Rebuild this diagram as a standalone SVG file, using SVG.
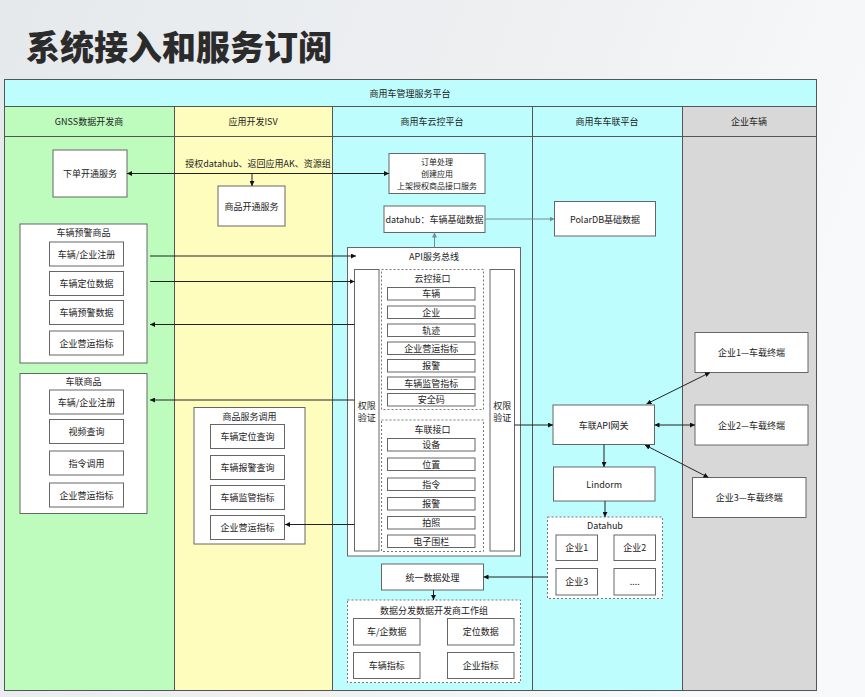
<svg xmlns="http://www.w3.org/2000/svg" width="865" height="697" viewBox="0 0 865 697">
<defs>
<linearGradient id="bg" x1="0" y1="0" x2="1" y2="0.3">
<stop offset="0" stop-color="#e6e9ec"/>
<stop offset="0.6" stop-color="#eef0f2"/>
<stop offset="1" stop-color="#f8f9fa"/>
</linearGradient>
<marker id="ah" viewBox="0 0 10 10" refX="10" refY="5" markerWidth="5" markerHeight="5" markerUnits="userSpaceOnUse" orient="auto-start-reverse">
<path d="M0,0 L10,5 L0,10 z" fill="#111"/>
</marker>
<marker id="ahg" viewBox="0 0 10 10" refX="10" refY="5" markerWidth="5" markerHeight="5" markerUnits="userSpaceOnUse" orient="auto-start-reverse">
<path d="M0,0 L10,5 L0,10 z" fill="#6f8c97"/>
</marker>
</defs>
<style>
text{font-family:"Noto Sans CJK SC","Liberation Sans",sans-serif;fill:#222;font-size:9px;text-anchor:middle;dominant-baseline:central}
.title{font-size:34px;font-weight:900;fill:#2b2b2b;text-anchor:start;dominant-baseline:auto}
.ml{font-size:8px}
.lane{stroke:#555;stroke-width:1}
.box{fill:#fff;stroke:#666;stroke-width:1}
.dash{fill:#fff;stroke:#777;stroke-width:1;stroke-dasharray:2 2}
.ln{fill:none;stroke:#222;stroke-width:1}
.lg{fill:none;stroke:#6f8c97;stroke-width:1}
</style>
<rect x="0" y="0" width="865" height="697" fill="url(#bg)"/>
<text class="title" x="26" y="60">系统接入和服务订阅</text>

<g id="lanes">
<rect class="lane" x="4.5" y="79.5" width="812" height="27" fill="#bdfdfd"/>
<rect class="lane" x="4.5" y="106.5" width="170" height="584" fill="#bdfcbd"/>
<rect class="lane" x="174.5" y="106.5" width="158" height="584" fill="#fefdbd"/>
<rect class="lane" x="332.5" y="106.5" width="200" height="584" fill="#bdfdfd"/>
<rect class="lane" x="532.5" y="106.5" width="150" height="584" fill="#bdfdfd"/>
<rect class="lane" x="682.5" y="106.5" width="134" height="584" fill="#d8d8d8"/>
<line class="lane" x1="4.5" y1="136.5" x2="816.5" y2="136.5"/>
<text x="410" y="93">商用车管理服务平台</text>
<text x="89" y="121">GNSS数据开发商</text>
<text x="253" y="121">应用开发ISV</text>
<text x="432" y="121">商用车云控平台</text>
<text x="607" y="121">商用车车联平台</text>
<text x="749" y="121">企业车辆</text>
</g>

<g id="n-xiadan"><rect class="box" x="53" y="150" width="74" height="47"/><text x="90" y="173.5">下单开通服务</text></g>
<g id="n-shangpinkaitong"><rect class="box" x="218" y="186" width="67" height="40"/><text x="251.5" y="206">商品开通服务</text></g>

<g id="n-yujing">
<rect class="box" x="20" y="224" width="127" height="139"/>
<text x="83.5" y="232.5">车辆预警商品</text>
<rect class="box" x="49.5" y="242" width="74" height="24"/><text x="86.5" y="254">车辆/企业注册</text>
<rect class="box" x="49.5" y="271.5" width="74" height="24"/><text x="86.5" y="283.5">车辆定位数据</text>
<rect class="box" x="49.5" y="300.5" width="74" height="24"/><text x="86.5" y="312.5">车辆预警数据</text>
<rect class="box" x="49.5" y="331" width="74" height="24"/><text x="86.5" y="343">企业营运指标</text>
</g>

<g id="n-chelian">
<rect class="box" x="20" y="373.5" width="127" height="140"/>
<text x="83.5" y="381.5">车联商品</text>
<rect class="box" x="49.5" y="390" width="74" height="24"/><text x="86.5" y="402">车辆/企业注册</text>
<rect class="box" x="49.5" y="419.5" width="74" height="24"/><text x="86.5" y="431.5">视频查询</text>
<rect class="box" x="49.5" y="451" width="74" height="24"/><text x="86.5" y="463">指令调用</text>
<rect class="box" x="49.5" y="483" width="74" height="24"/><text x="86.5" y="495">企业营运指标</text>
</g>

<g id="n-fuwudiaoyong">
<rect class="box" x="194" y="407.5" width="111" height="136.5"/>
<text x="249.5" y="416">商品服务调用</text>
<rect class="box" x="210.5" y="424.5" width="74" height="24"/><text x="247.5" y="436.5">车辆定位查询</text>
<rect class="box" x="210.5" y="455.5" width="74" height="24"/><text x="247.5" y="467.5">车辆报警查询</text>
<rect class="box" x="210.5" y="485.5" width="74" height="24"/><text x="247.5" y="497.5">车辆监管指标</text>
<rect class="box" x="210.5" y="515.5" width="74" height="24"/><text x="247.5" y="527.5">企业营运指标</text>
</g>

<g id="n-dingdan">
<rect class="box" x="389" y="153.5" width="96" height="40"/>
<text class="ml" x="437" y="161.6">订单处理</text>
<text class="ml" x="437" y="173.5">创建应用</text>
<text class="ml" x="437" y="185.4">上架授权商品接口服务</text>
</g>
<g id="n-datahub"><rect class="box" x="384" y="206" width="101" height="26.5"/><text x="434.5" y="219">datahub：车辆基础数据</text></g>
<g id="n-polardb"><rect class="box" x="554.5" y="201.5" width="101" height="34.5"/><text x="605" y="219">PolarDB基础数据</text></g>

<g id="n-api">
<rect class="box" x="347.5" y="247.5" width="173" height="308.5"/>
<text x="434" y="256">API服务总线</text>
<rect class="box" x="354.5" y="269.5" width="24.5" height="281.5"/>
<text x="366.7" y="405">权限</text><text x="366.7" y="417">验证</text>
<rect class="box" x="490" y="269.5" width="24.5" height="281.5"/>
<text x="502.2" y="405">权限</text><text x="502.2" y="417">验证</text>
</g>

<g id="n-yunkong">
<rect class="dash" x="381.5" y="269.5" width="102" height="140"/>
<text x="432.5" y="278.5">云控接口</text>
<rect class="box" x="387.5" y="287.5" width="87.5" height="12.5"/><text x="431.2" y="293.8">车辆</text>
<rect class="box" x="387.5" y="306" width="87.5" height="12.5"/><text x="431.2" y="312.3">企业</text>
<rect class="box" x="387.5" y="324" width="87.5" height="12.5"/><text x="431.2" y="330.3">轨迹</text>
<rect class="box" x="387.5" y="342" width="87.5" height="12.5"/><text x="431.2" y="348.3">企业营运指标</text>
<rect class="box" x="387.5" y="359.5" width="87.5" height="12.5"/><text x="431.2" y="365.8">报警</text>
<rect class="box" x="387.5" y="377" width="87.5" height="12.5"/><text x="431.2" y="383.3">车辆监管指标</text>
<rect class="box" x="387.5" y="393.5" width="87.5" height="12.5"/><text x="431.2" y="399.8">安全码</text>
</g>

<g id="n-chelianjiekou">
<rect class="dash" x="381.5" y="420" width="102" height="131.5"/>
<text x="432.5" y="429.5">车联接口</text>
<rect class="box" x="387.5" y="438.5" width="87.5" height="12.5"/><text x="431.2" y="444.8">设备</text>
<rect class="box" x="387.5" y="458" width="87.5" height="12.5"/><text x="431.2" y="464.3">位置</text>
<rect class="box" x="387.5" y="478" width="87.5" height="12.5"/><text x="431.2" y="484.3">指令</text>
<rect class="box" x="387.5" y="497.5" width="87.5" height="12.5"/><text x="431.2" y="503.8">报警</text>
<rect class="box" x="387.5" y="516.5" width="87.5" height="12.5"/><text x="431.2" y="522.8">拍照</text>
<rect class="box" x="387.5" y="535" width="87.5" height="12.5"/><text x="431.2" y="541.3">电子围栏</text>
</g>

<g id="n-tongyi"><rect class="box" x="381.5" y="564" width="102" height="26"/><text x="432.5" y="577">统一数据处理</text></g>

<g id="n-fenfa">
<rect class="dash" x="347.5" y="600" width="173" height="82.5"/>
<text x="434" y="610">数据分发数据开发商工作组</text>
<rect class="box" x="353.5" y="618.5" width="66.5" height="26.5"/><text x="386.7" y="631.7">车/企数据</text>
<rect class="box" x="447.5" y="618.5" width="66.5" height="26.5"/><text x="480.7" y="631.7">定位数据</text>
<rect class="box" x="353.5" y="652.5" width="66.5" height="26"/><text x="386.7" y="665.5">车辆指标</text>
<rect class="box" x="447.5" y="652.5" width="66.5" height="26"/><text x="480.7" y="665.5">企业指标</text>
</g>

<g id="n-gateway"><rect class="box" x="553" y="405" width="101.5" height="39.5"/><text x="603.7" y="425">车联API网关</text></g>
<g id="n-lindorm"><rect class="box" x="553.5" y="467" width="101.5" height="34"/><text x="604.2" y="484">Lindorm</text></g>
<g id="n-datahubgrp">
<rect class="dash" x="547.5" y="517" width="115" height="81.5"/>
<text x="605" y="525.5">Datahub</text>
<rect class="box" x="556" y="535" width="41.5" height="25.5"/><text x="576.7" y="547.8">企业1</text>
<rect class="box" x="614" y="535" width="41.5" height="25.5"/><text x="634.7" y="547.8">企业2</text>
<rect class="box" x="556" y="568.5" width="41.5" height="26.5"/><text x="576.7" y="581.7">企业3</text>
<rect class="box" x="614" y="568.5" width="41.5" height="26.5"/><text x="634.7" y="581.7">....</text>
</g>

<g id="n-ent1"><rect class="box" x="695" y="332.5" width="113" height="40"/><text x="751.5" y="352.5">企业1—车载终端</text></g>
<g id="n-ent2"><rect class="box" x="695" y="405" width="113" height="40"/><text x="751.5" y="425">企业2—车载终端</text></g>
<g id="n-ent3"><rect class="box" x="692.5" y="477.5" width="113.5" height="40"/><text x="749.2" y="497.5">企业3—车载终端</text></g>

<g id="connectors">
<text x="258" y="163">授权datahub、返回应用AK、资源组</text>
<line class="ln" x1="127" y1="173.5" x2="389" y2="173.5" marker-start="url(#ah)" marker-end="url(#ah)"/>
<line class="ln" x1="252" y1="173.5" x2="252" y2="186" marker-end="url(#ah)"/>
<line class="ln" x1="150" y1="256" x2="356" y2="256" marker-end="url(#ah)"/>
<line class="ln" x1="150" y1="281.5" x2="354.5" y2="281.5" marker-end="url(#ah)"/>
<line class="ln" x1="354.5" y1="324.5" x2="150" y2="324.5" marker-end="url(#ah)"/>
<line class="ln" x1="354.5" y1="400" x2="150" y2="400" marker-end="url(#ah)"/>
<line class="ln" x1="354.5" y1="524.5" x2="285" y2="524.5" marker-end="url(#ah)"/>
<line class="lg" x1="434.5" y1="247.5" x2="434.5" y2="232.5" marker-end="url(#ahg)"/>
<line class="lg" x1="485" y1="219" x2="554.5" y2="219" marker-end="url(#ahg)"/>
<line class="ln" x1="514.5" y1="425" x2="553" y2="425" marker-end="url(#ah)"/>
<line class="ln" x1="604" y1="444.5" x2="604" y2="467" marker-end="url(#ah)"/>
<line class="ln" x1="605" y1="501" x2="605" y2="517" marker-end="url(#ah)"/>
<line class="ln" x1="547.5" y1="577" x2="483.5" y2="577" marker-end="url(#ah)"/>
<line class="ln" x1="433.5" y1="590" x2="433.5" y2="600" marker-end="url(#ah)"/>
<line class="ln" x1="646.5" y1="404" x2="710" y2="372.5" marker-start="url(#ah)" marker-end="url(#ah)"/>
<line class="ln" x1="654.5" y1="425" x2="695" y2="425" marker-start="url(#ah)" marker-end="url(#ah)"/>
<line class="ln" x1="645" y1="445" x2="708.5" y2="477.5" marker-start="url(#ah)" marker-end="url(#ah)"/>
</g>
</svg>
